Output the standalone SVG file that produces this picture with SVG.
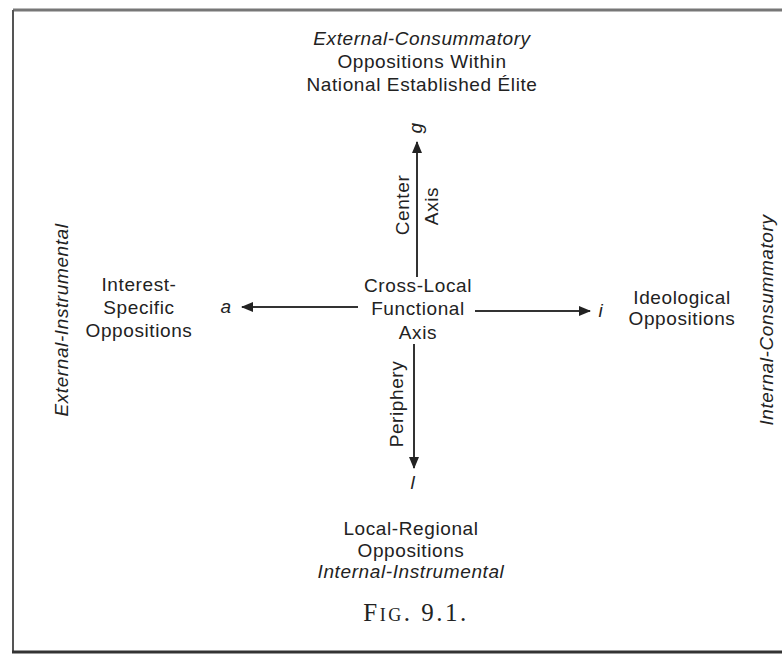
<svg xmlns="http://www.w3.org/2000/svg" width="782" height="655" viewBox="0 0 782 655">
<style>
.t{font-family:"Liberation Sans",Arial,sans-serif;font-size:19px;fill:#222;text-anchor:middle;letter-spacing:0.6px}
.i{font-style:italic}
.ln{stroke:#333;stroke-width:2;fill:none}
.fig{font-family:"Liberation Serif","Times New Roman",serif;font-size:25px;fill:#222;text-anchor:middle;font-variant:small-caps;letter-spacing:2.5px}
</style>
<defs>
<marker id="ah" viewBox="0 0 12 10" refX="11" refY="5" markerWidth="12" markerHeight="10" markerUnits="userSpaceOnUse" orient="auto">
<path d="M0,0 L12,5 L0,10 Z" fill="#222"/>
</marker>
</defs>
<rect x="0" y="0" width="782" height="655" fill="#fff"/>
<g id="frame">
<line x1="13" y1="10" x2="782" y2="10" stroke="#777" stroke-width="3"/>
<line x1="13" y1="10" x2="13" y2="652" stroke="#555" stroke-width="2"/>
<line x1="12" y1="652" x2="782" y2="652" stroke="#333" stroke-width="3"/>
</g>
<g id="connectors">
<line class="ln" x1="417" y1="277" x2="417" y2="142" marker-end="url(#ah)"/>
<line class="ln" x1="358" y1="307" x2="242" y2="307" marker-end="url(#ah)"/>
<line class="ln" x1="475" y1="311" x2="590" y2="311" marker-end="url(#ah)"/>
<line class="ln" x1="414" y1="344" x2="414" y2="468" marker-end="url(#ah)"/>
<text class="t" transform="translate(409,205) rotate(-90)">Center</text>
<text class="t" transform="translate(438,206) rotate(-90)">Axis</text>
<text class="t" transform="translate(403,404) rotate(-90)">Periphery</text>
</g>
<g id="node-top">
<text class="t i" x="422" y="45">External-Consummatory</text>
<text class="t" x="422" y="68">Oppositions Within</text>
<text class="t" x="422" y="91">National Established Élite</text>
<text class="t i" transform="translate(422,128) rotate(-90)">g</text>
</g>
<g id="node-center">
<text class="t" x="418" y="292">Cross-Local</text>
<text class="t" x="418" y="315">Functional</text>
<text class="t" x="418" y="339">Axis</text>
</g>
<g id="node-left">
<text class="t" x="139" y="291">Interest-</text>
<text class="t" x="139" y="314">Specific</text>
<text class="t" x="139" y="337">Oppositions</text>
<text class="t i" x="226" y="313">a</text>
</g>
<g id="node-right">
<text class="t" x="682" y="304">Ideological</text>
<text class="t" x="682" y="325">Oppositions</text>
<text class="t i" x="601" y="317">i</text>
</g>
<g id="node-bottom">
<text class="t i" x="413" y="489">l</text>
<text class="t" x="411" y="535">Local-Regional</text>
<text class="t" x="411" y="557">Oppositions</text>
<text class="t i" x="411" y="578">Internal-Instrumental</text>
</g>
<g id="side-labels">
<text class="t i" transform="translate(68,320) rotate(-90)">External-Instrumental</text>
<text class="t i" transform="translate(773,320) rotate(-90)">Internal-Consummatory</text>
</g>
<g id="caption">
<text class="fig" x="416" y="621">Fig. 9.1.</text>
</g>
</svg>
